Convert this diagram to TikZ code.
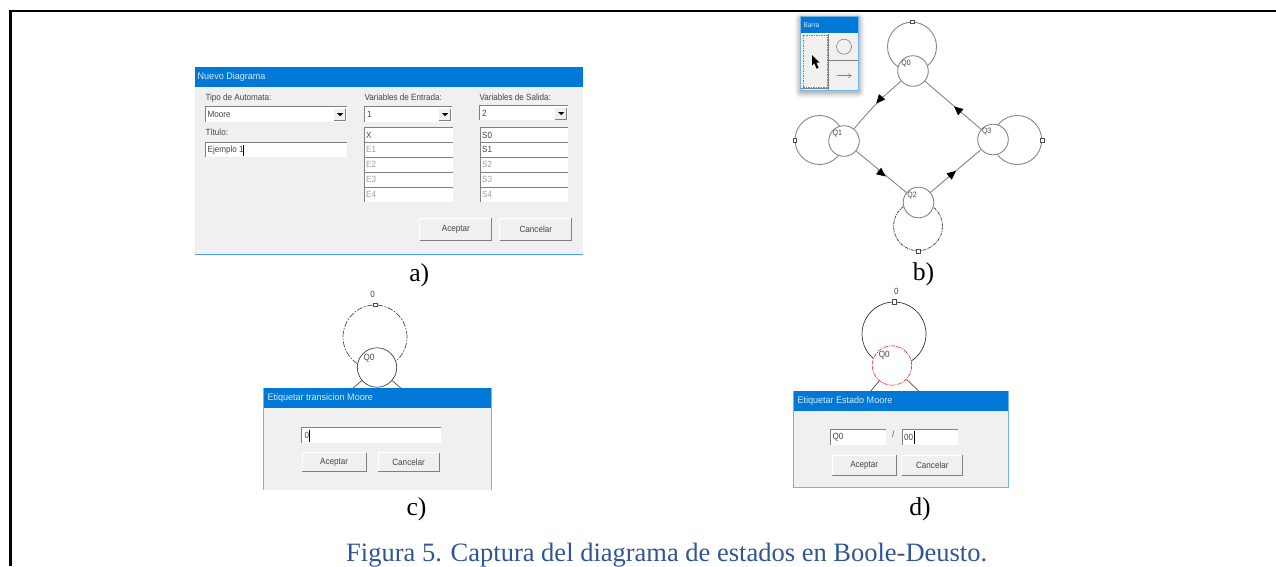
\documentclass[tikz,border=0pt]{standalone}
\usepackage{fontspec}
\setmainfont{Liberation Serif}
\setsansfont[FakeStretch=.9]{Liberation Sans}
\newfontfamily\titlefont[FakeStretch=.95]{Liberation Sans}
\usetikzlibrary{arrows.meta}
\definecolor{winblue}{HTML}{0078D7}
\definecolor{winbg}{HTML}{F0F0F0}
\definecolor{capblue}{HTML}{2F5597}
\definecolor{linegray}{HTML}{858585}
\definecolor{txtgray}{HTML}{444444}
\tikzset{
 x=1pt,y=-1pt,
 win/.style={fill=winbg,draw=none},
 titlebar/.style={fill=winblue,draw=none},
 titletext/.style={anchor=west,inner sep=0pt,font=\titlefont\fontsize{9.5}{10}\selectfont,text=white!85!winblue},
 lab/.style={anchor=west,inner sep=0pt,font=\sffamily\fontsize{9}{10}\selectfont,text=txtgray},
 graylab/.style={lab,text=gray!75},
 btn/.style={fill=winbg,draw=none,inner sep=0pt,font=\sffamily\fontsize{9}{10}\selectfont,text=txtgray},
 subcap/.style={inner sep=0pt,anchor=base,font=\fontsize{25.7}{28}\selectfont,text=black},
 state/.style={circle,draw=linegray,fill=white,line width=.9pt,minimum size=30.6pt,inner sep=0pt},
 loopb/.style={circle,draw=linegray,line width=.9pt,minimum size=49pt,inner sep=0pt},
 bigstate/.style={circle,draw=black!75,fill=white,line width=.7pt,minimum size=39.4pt,inner sep=0pt},
 bigloop/.style={circle,draw=black!70,line width=.7pt,minimum size=64pt,inner sep=0pt},
 statelab/.style={inner sep=0pt,font=\sffamily\fontsize{7.8}{8}\selectfont,text=txtgray},
 biglab/.style={inner sep=0pt,font=\sffamily\fontsize{9}{10}\selectfont,text=txtgray},
 trans/.style={draw=linegray,line width=.9pt},
 tipmark/.style={draw=linegray,line width=.9pt,-{Triangle[length=9pt,width=8pt,color=black,fill=black]}},
 edgeline/.style={draw=black!70,line width=.7pt},
 handle/.style={draw=black!70,fill=white,line width=.4pt,minimum size=3.5pt,inner sep=0pt},
 caret/.style={black,line width=.5pt},
}
\newcommand{\myfield}[4]{%
 \fill[white] (#1,#2) rectangle (#3,#4);
 \draw[gray,line width=.9pt] (#1,#4) -- (#1,#2) -- (#3,#2);
}
\newcommand{\mycombo}[4]{%
 \myfield{#1}{#2}{#3}{#4}
 \fill[winbg] (#3-12.5,#2+2) rectangle (#3-1,#4-1);
 \draw[gray,line width=.7pt] (#3-1,#2+2) -- (#3-1,#4-1) -- (#3-12.5,#4-1);
 \fill[black] (#3-9.5,#2+6.5) -- (#3-3.5,#2+6.5) -- (#3-6.5,#2+9.5) -- cycle;
}
\newcommand{\mybutton}[6]{% name, cx, cy, w, h, text
 \node[btn,minimum width=#4pt,minimum height=#5pt] (#1) at (#2,#3) {#6};
 \draw[white,line width=.8pt] (#1.south west) -- (#1.north west) -- (#1.north east);
 \draw[gray,line width=1pt] (#1.north east) -- (#1.south east) -- (#1.south west);
}
\begin{document}
\begin{tikzpicture}
\useasboundingbox (0,0) rectangle (1276,566);
\draw[black,line width=2.2pt] (10.5,566) -- (10.5,11) -- (1276,11);
% --- a) ---
\fill[win] (195,67.3) rectangle (583,254);
\fill[titlebar] (195,67.3) rectangle (583,86.7);
\draw[winblue!70,line width=.8pt] (195,254) -- (583,254);
\node[titletext] (ta) at (197.5,77) {Nuevo Diagrama};
\node[lab] (a1) at (205.3,97.7) {Tipo de Automata:};
\node[lab] (a2) at (364.3,97.7) {Variables de Entrada:};
\node[lab] (a3) at (479.3,97.7) {Variables de Salida:};
\mycombo{205.3}{106.7}{346.7}{121.7}
\node[lab] at (207.5,114.5) {Moore};
\mycombo{364.3}{106.7}{451.7}{121.7}
\node[lab] at (367,114.5) {1};
\mycombo{479.3}{105.7}{567.7}{120}
\node[lab] at (482,113) {2};
\node[lab] at (205.3,132.5) {Título:};
\myfield{205.3}{142.7}{346.7}{156.7}
\node[lab] at (207.5,150) {Ejemplo 1};
\draw[caret] (243.3,145) -- (243.3,155.5);
\foreach \yy/\ta/\tb/\sa/\sb in {127.7/X/S0/lab/lab,142.3/E1/S1/graylab/lab,157.3/E2/S2/graylab/graylab,172.3/E3/S3/graylab/graylab,187.3/E4/S4/graylab/graylab}{
 \myfield{364.3}{\yy}{452.7}{\yy+14.3}
 \myfield{480}{\yy}{567.7}{\yy+14.3}
 \node[\sa] at (366,\yy+7.3) {\ta};
 \node[\sb] at (482,\yy+7.3) {\tb};
}
\mybutton{b1}{455.8}{229.5}{71.7}{22.4}{Aceptar}
\mybutton{b2}{535.8}{229.5}{71.7}{22.4}{Cancelar}
\node[subcap] (la) at (419.3,281) {a)};
% --- b) ---
\node[loopb] (l0) at (912,46.7) {};
\node[loopb] (l1) at (819.5,140) {};
\node[loopb] (l3) at (1017.2,140) {};
\node[loopb,draw=black!65,dash pattern=on 3pt off 1pt on 1pt off 1pt] (l2) at (918,226.2) {};
\node[state] (q0) at (913,71) {};
\node[state] (q1) at (844,141) {};
\node[state] (q2) at (918.5,202.5) {};
\node[state] (q3) at (993,139.5) {};
\draw[trans] (q0) to[bend right=5] (q1);
\draw[trans] (q1) -- (q2);
\draw[trans] (q2) -- (q3);
\draw[trans] (q3) -- (q0);
\coordinate (a01) at (882.3,96.5);
\coordinate (t01) at (876.2,103.6);
\coordinate (a12) at (877.3,170);
\coordinate (t12) at (885.7,176.5);
\coordinate (a23) at (947.3,178.1);
\coordinate (t23) at (956,170.8);
\coordinate (a30) at (961,112.4);
\coordinate (t30) at (954,106.3);
\draw[tipmark] (a01) -- (t01);
\draw[tipmark] (a12) -- (t12);
\draw[tipmark] (a23) -- (t23);
\draw[tipmark] (a30) -- (t30);
\node[handle] (h0) at (l0.north) {};
\node[handle] (h1) at (l1.west) {};
\node[handle] (h3) at (l3.east) {};
\node[handle] (h2) at (l2.south) {};
\node[statelab] (s0) at (906,63.3) {Q0};
\node[statelab] (s1) at (837.3,133.7) {Q1};
\node[statelab] (s2) at (912,195.3) {Q2};
\node[statelab] (s3) at (986.7,131.7) {Q3};
% Barra
\foreach \e/\o in {6/.03,5/.03,4/.04,3/.05,2/.06,1/.07}{
 \fill[black,opacity=\o,rounded corners=\e pt] (800.7-\e,16.7-\e+2) rectangle (858.7+\e,90+\e+2);
}
\fill[winbg] (800.7,16.7) rectangle (858.7,90);
\fill[titlebar] (800.7,16.7) rectangle (858.7,32.7);
\draw[winblue!55,line width=.8pt] (800.7,16.7) rectangle (858.7,90);
\node[titletext,font=\titlefont\fontsize{6.8}{7}\selectfont] (tb) at (803.3,25) {Barra};
\draw[gray,line width=1pt] (828.7,32.7) -- (828.7,89.5);
\draw[gray,line width=.8pt] (828.7,60.7) -- (858.2,60.7);
\draw[white,line width=.7pt] (801.5,33.2) -- (858.2,33.2);
\draw[gray,line width=1pt] (801.3,88.8) -- (828.7,88.8);
\draw[gray,dash pattern=on 1.5pt off 1pt,line width=.7pt] (802.9,35.3) rectangle (827,87.3);
\node[circle,draw=gray,line width=.6pt,minimum size=15pt,inner sep=0pt] (bc) at (844,46.7) {};
\coordinate (ba) at (836.7,75.7);
\coordinate (bz) at (851.7,75.7);
\draw[gray,-{Straight Barb[length=3pt,width=4pt]},line width=.5pt] (ba) -- (bz);
\fill[black] (812,55) -- (812,65.5) -- (814.3,63.2) -- (816.6,68.7) -- (818.6,67.8) -- (816.3,62.7) -- (819.5,62.7) -- cycle;
\node[subcap] (lb) at (923.5,280) {b)};
% --- c) ---
\coordinate (cl) at (345,395);
\coordinate (cr) at (410,396);
\node[bigloop,dash pattern=on 6pt off 1.5pt on 1.5pt off 1.5pt] (lc) at (375,337) {};
\node[bigstate] (qc) at (377,367.5) {};
\draw[edgeline] (qc) -- (cl);
\draw[edgeline] (qc) -- (cr);
\node[handle] (hc) at (lc.north) {};
\node[biglab] (lc0) at (372.7,294.5) {0};
\node[biglab] (sc) at (369,357.7) {Q0};
\fill[win] (263.5,387.7) rectangle (491.7,490);
\fill[titlebar] (263.5,387.7) rectangle (491.7,408.3);
\draw[winblue!55,line width=.8pt] (263.5,387.7) -- (263.5,490);
\draw[winblue!55,line width=.8pt] (491.7,387.7) -- (491.7,490);
\node[titletext] (tc) at (267.3,397.7) {Etiquetar transicion Moore};
\myfield{301.7}{427.7}{440.7}{442.7}
\node[lab] at (304.5,435.5) {0};
\draw[caret] (309.5,429.5) -- (309.5,441.5);
\mybutton{c1}{334.2}{462.2}{63.7}{19}{Aceptar}
\mybutton{c2}{408.6}{462.2}{60.7}{19}{Cancelar}
\node[subcap] (lc2) at (416.5,515) {c)};
% --- d) ---
\coordinate (dl) at (865,398);
\coordinate (dr) at (925,397);
\node[bigloop,draw=black!80] (ld1) at (894,334) {};
\node[bigstate,draw=red!80,dash pattern=on 4pt off 1pt on 1pt off 1pt] (qd) at (892,365.5) {};
\draw[edgeline] (qd) -- (dl);
\draw[edgeline] (qd) -- (dr);
\node[handle,minimum size=4.5pt] (hd) at (ld1.north) {};
\node[biglab] (ld0) at (896.3,291.7) {0};
\node[biglab] (sd) at (884.3,355) {Q0};
\fill[win] (793.5,391) rectangle (1008.7,487.5);
\fill[titlebar] (793.5,391) rectangle (1008.7,411);
\draw[winblue!55,line width=.8pt] (793.5,391) -- (793.5,487.5) -- (1008.7,487.5) -- (1008.7,391);
\node[titletext] (td) at (797.3,400.7) {Etiquetar Estado Moore};
\myfield{830}{429.5}{886}{445}
\myfield{902}{429.5}{957.7}{445}
\node[lab] at (832.3,437.5) {Q0};
\node[lab] at (904,437.5) {00};
\draw[caret] (914,431) -- (914,443.5);
\node[lab] (slash) at (892,434.5) {/};
\mybutton{d1}{864.2}{465.3}{63.7}{19.3}{Aceptar}
\mybutton{d2}{932.3}{465.3}{60.7}{19.3}{Cancelar}
\node[subcap] (ld) at (920,515) {d)};
% caption
\node[inner sep=0pt,anchor=base west,font=\fontsize{26.5}{28}\selectfont,text=capblue] (fig) at (346,561) {Figura 5. Captura del diagrama de estados en Boole-Deusto.};
\end{tikzpicture}
\end{document}
